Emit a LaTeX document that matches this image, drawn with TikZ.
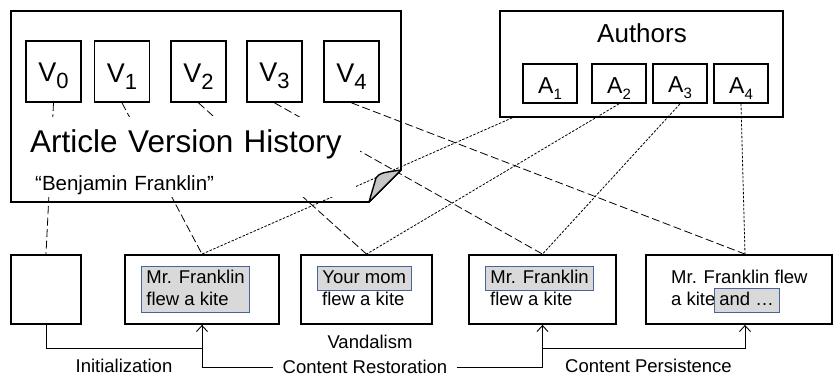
\documentclass[tikz,border=0pt]{standalone}
\usepackage{fontspec}
\setmainfont{Liberation Sans}
\usepackage{tikz}
\usetikzlibrary{arrows.meta,positioning,calc}
\pgfdeclarelayer{bg}
\pgfsetlayers{bg,main}
\definecolor{hlblue}{RGB}{70,100,150}
\newcommand{\vername}[1]{V\raisebox{-7pt}{\fontsize{22}{22}\selectfont #1}}
\newcommand{\authname}[1]{A\raisebox{-6pt}{\fontsize{15}{15}\selectfont #1}}
\newcommand{\boxfont}{\fontsize{18.5}{22}\selectfont}
\tikzset{
  vbox/.style={draw, line width=1.7pt, inner sep=0, minimum width=55pt, minimum height=61pt,
    font=\fontsize{27}{27}\selectfont, text height=28pt},
  abox/.style={draw, line width=1.7pt, inner sep=0, minimum width=54pt, minimum height=39pt,
    font=\fontsize{23}{23}\selectfont, text height=25pt},
  revbox/.style={draw, line width=1.8pt, inner sep=0, minimum height=69pt},
  hl/.style={fill=gray!30, draw=hlblue, line width=0.8pt, inner xsep=5pt, inner ysep=3pt,
    text height=13.5pt, text depth=4pt, font=\boxfont, align=left, anchor=base west},
  plain/.style={inner sep=0, font=\boxfont, align=left, anchor=base west},
  lbl/.style={font=\boxfont, anchor=base},
  vline/.style={line width=0.8pt, dash pattern=on 8pt off 3.5pt},
  aline/.style={line width=0.8pt, dash pattern=on 2.5pt off 1.5pt},
  flow/.style={line width=0.9pt, -{Straight Barb[length=6pt,width=11pt]}}
}

\begin{document}
\begin{tikzpicture}[x=1pt, y=-1pt]
    \useasboundingbox (0,0) rectangle (833,376);

    % article history page with folded corner
    \draw[line width=1.7pt] (11,11) -- (401,11) -- (401,170) -- (369,202) -- (11,202) -- cycle;
    \filldraw[fill=gray!45, line width=1.4pt, line join=round] (369,202) -- (376,178) .. controls (380,173) .. (401,170) -- cycle;

    \node [vbox] (v0) at (53.5,71.5) {\vername{0}};
    \node [vbox] (v1) at (122,71.5) {\vername{1}};
    \node [vbox] (v2) at (198.5,71.5) {\vername{2}};
    \node [vbox] (v3) at (274.5,71.5) {\vername{3}};
    \node [vbox] (v4) at (351.5,71.5) {\vername{4}};
    \node [fill=white, inner sep=0, anchor=base west, align=left, text width=330pt,
      text height=35pt, text depth=18pt, font=\fontsize{31.5}{31.5}\selectfont] (title) at (30,152) {Article Version History};
    \node [fill=white, inner sep=0, anchor=base west, align=left, text width=320pt,
      text height=25pt, text depth=7pt, font=\fontsize{20.5}{20.5}\selectfont] (subject) at (35,190) {“Benjamin Franklin”};

    % authors
    \node [draw, line width=1.7pt, minimum width=283pt, minimum height=106pt] (authors) at (641.5,64) {};
    \node [font=\fontsize{26}{26}\selectfont, anchor=base] (authorstitle) at (642,42) {Authors};
    \node [abox] (a1) at (550,83.5) {\authname{1}};
    \node [abox] (a2) at (619,83.5) {\authname{2}};
    \node [abox] (a3) at (680,83.5) {\authname{3}};
    \node [abox] (a4) at (741,83.5) {\authname{4}};
    \coordinate (a1foot) at ([xshift=13pt]authors.south west);

    % revisions
    \node [revbox, minimum width=70pt] (rev0) at (46,289.5) {};
    \node [revbox, minimum width=154pt] (rev1) at (202,289.5) {};
    \node [revbox, minimum width=131pt] (rev2) at (366.5,289.5) {};
    \node [revbox, minimum width=147pt] (rev3) at (542.5,289.5) {};
    \node [revbox, minimum width=186pt] (rev4) at (739,289.5) {};
    \coordinate (rev4top) at ([xshift=6pt]rev4.north);
    \coordinate (rev4bot) at ([xshift=6pt]rev4.south);

    \node [hl, text height=35.5pt] (franklina) at (141,305) {Mr. Franklin\\flew a kite};
    \node [hl] (mom) at (317,283) {Your mom};
    \node [plain] (momkite) at (322,305) {flew a kite};
    \node [hl] (franklinb) at (485,283) {Mr. Franklin};
    \node [plain] (franklinbkite) at (490,305) {flew a kite};
    \node [plain] (kitetext) at (671,305) {Mr. Franklin flew\\a kite};
    \node [hl] (andmore) at (714,305) {and …};

    \node [lbl] (vandal) at (370,348) {Vandalism};
    \node [lbl] (initlbl) at (124,372) {Initialization};
    \node [lbl] (persistlbl) at (648.5,372) {Content Persistence};

    \draw[flow] (rev0.south) -- ++(0,24) -| (rev1.south);
    \draw[flow] (rev1.south) -- ++(0,43) -| (rev3.south);
    \draw[flow] ([yshift=-24pt]rev3.south) -| (rev4bot);
    \node [lbl, fill=white, inner xsep=10pt, inner ysep=0pt] (restolbl) at (365,373) {Content Restoration};

    \begin{pgfonlayer}{bg}    % links behind the boxes
        \draw[vline] (v0.south) -- (rev0.north);
        \draw[vline] (v1.south) -- (rev1.north);
        \draw[vline] (v2.south) -- (rev2.north);
        \draw[vline] (v3.south) -- (rev3.north);
        \draw[vline] (v4.south) -- (rev4top);
        \draw[aline] (a1foot) -- (rev1.north);
        \draw[aline] (a2.south) -- (rev2.north);
        \draw[aline] (a3.south) -- (rev3.north);
        \draw[aline] (a4.south) -- (rev4top);
    \end{pgfonlayer}
\end{tikzpicture}
\end{document}
